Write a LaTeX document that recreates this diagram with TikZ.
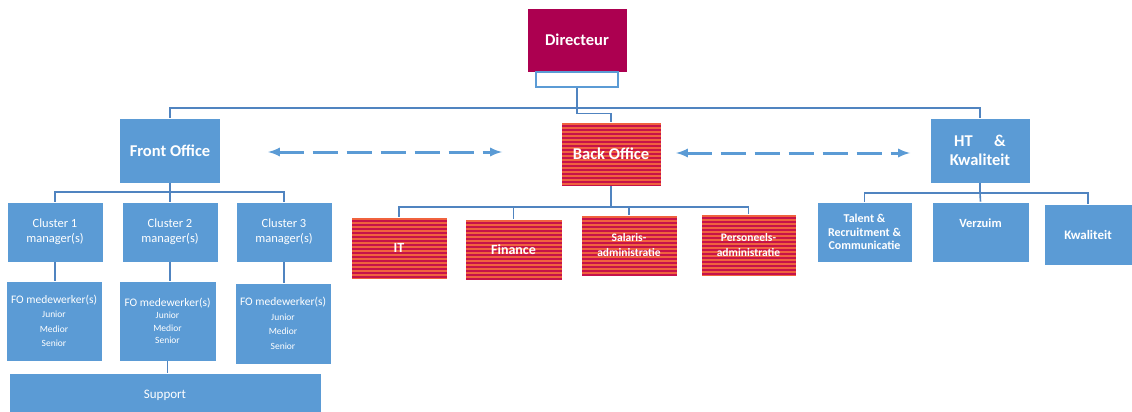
\documentclass[tikz,border=0pt]{standalone}
\usepackage{fontspec}
\setmainfont{Carlito}
\usetikzlibrary{arrows}
\usepackage{xcolor}

\definecolor{dirred}{RGB}{172,0,80}
\definecolor{boxblue}{RGB}{91,155,213}
\definecolor{lineblue}{RGB}{80,132,192}
\definecolor{stripered}{RGB}{198,18,74}
\definecolor{stripeorange}{RGB}{240,98,62}

\tikzset{
  unit/.style={draw=white, line width=0.6pt, fill=boxblue, text=white, align=center, inner sep=1pt},
  backunit/.style={unit, fill=stripered, path picture={
      \foreach \k in {1,5,...,69}
        \fill[stripeorange] ([yshift=-\k pt]path picture bounding box.north west) rectangle ++(200pt,-2pt);}},
  conn/.style={draw=lineblue, line width=1.6pt},
  linkarrow/.style={latex-latex, draw=boxblue, line width=3pt, dash pattern=on 25pt off 9pt},
  bigtxt/.style={font=\fontsize{16.5}{19}\selectfont\bfseries},
}

\begin{document}
\begin{tikzpicture}[x=1pt, y=-1pt]
    \useasboundingbox (0,0) rectangle (1132,412);

    % top
    \node[unit, fill=dirred, minimum width=100pt, minimum height=64pt, bigtxt] (dir) at (577,40) {Directeur};
    \node[draw=boxblue, line width=1.2pt, fill=white, minimum width=82pt, minimum height=15pt] (dirsub) at (577,79.5) {};

    \node[unit, minimum width=101pt, minimum height=65pt, bigtxt] (fo) at (170,150.5) {Front Office};
    \node[backunit, minimum width=100pt, minimum height=64pt, bigtxt] (bo) at (611,154) {Back Office};
    \node[unit, minimum width=100pt, minimum height=65pt, bigtxt] (ht) at (980,150.5) {HT\hspace{1.3em}\&\\Kwaliteit};

    % front office
    \node[unit, minimum width=96pt, minimum height=60pt, font=\fontsize{12.5}{15}\selectfont] (c1) at (55,232) {Cluster 1\\manager(s)};
    \node[unit, minimum width=96pt, minimum height=60pt, font=\fontsize{12.5}{15}\selectfont] (c2) at (170,232) {Cluster 2\\manager(s)};
    \node[unit, minimum width=96pt, minimum height=60pt, font=\fontsize{12.5}{15}\selectfont] (c3) at (284,232) {Cluster 3\\manager(s)};

    \node[unit, minimum width=96pt, minimum height=80pt, font=\fontsize{11.5}{14.5}\selectfont] (w1) at (54,321) {FO medewerker(s)\\{\fontsize{9.5}{14.5}\selectfont Junior}\\{\fontsize{9.5}{14.5}\selectfont Medior}\\{\fontsize{9.5}{14.5}\selectfont Senior}};
    \node[unit, minimum width=97pt, minimum height=80pt, font=\fontsize{11.5}{12.5}\selectfont] (w2) at (167.5,321) {FO medewerker(s)\\{\fontsize{9.5}{12.5}\selectfont Junior}\\{\fontsize{9.5}{12.5}\selectfont Medior}\\{\fontsize{9.5}{14.5}\selectfont Senior}};
    \node[unit, minimum width=96pt, minimum height=81pt, font=\fontsize{11.5}{14.5}\selectfont] (w3) at (283,323.5) {FO medewerker(s)\\{\fontsize{9.5}{14.5}\selectfont Junior}\\{\fontsize{9.5}{14.5}\selectfont Medior}\\{\fontsize{9.5}{14.5}\selectfont Senior}};

    \node[unit, anchor=north, minimum width=312pt, minimum height=44pt, font=\fontsize{13}{15}\selectfont] (sup) at (165,373) {Support};

    % back office
    \node[backunit, minimum width=96pt, minimum height=62pt, font=\fontsize{14}{15}\selectfont\bfseries] (it) at (399,248) {IT};
    \node[backunit, minimum width=97pt, minimum height=61pt, font=\fontsize{14}{15}\selectfont\bfseries] (fin) at (513.5,249.5) {Finance};
    \node[backunit, minimum width=96pt, minimum height=61pt, font=\fontsize{11.5}{15}\selectfont\bfseries] (sal) at (629,245.5) {Salaris-\\administratie};
    \node[backunit, minimum width=95pt, minimum height=62pt, font=\fontsize{11.5}{15}\selectfont\bfseries] (pers) at (748.5,245) {Personeels-\\administratie};

    % HT & kwaliteit
    \node[unit, minimum width=95pt, minimum height=60pt, font=\fontsize{12}{13.5}\selectfont\bfseries] (tal) at (864.5,232) {Talent \&\\Recruitment \&\\Communicatie};
    \node[unit, minimum width=97pt, minimum height=60pt, font=\fontsize{12.5}{14}\selectfont\bfseries] (ver) at (980.5,232) {Verzuim\\[4pt]};
    \node[unit, minimum width=88pt, minimum height=61pt, font=\fontsize{13}{14}\selectfont\bfseries] (kw) at (1088,234.5) {Kwaliteit};

    % connectors
    \draw[conn] (dirsub.south) -- ++(0,26) -| (bo.north);
    \draw[conn] (fo.north) -- ++(0,-10) -| (ht.north);

    \draw[conn] (c1.north) -- ++(0,-10) -| (c3.north);
    \draw[conn] (fo.south) -- (c2.north);
    \foreach \i in {1,2,3}
        \draw[conn] (c\i.south) -- (c\i.south |- w\i.north);
    \draw[conn] (w2.south) -- (w2.south |- sup.north);

    \coordinate (bobus) at (611,207);
    \draw[conn] (bo.south) -- (bobus);
    \draw[conn] (it.north) |- (bobus) -| (pers.north);
    \foreach \n in {fin,sal}
        \draw[conn] (\n.north) -- (\n.north |- bobus);

    \coordinate (htbus) at (980,193);
    \draw[conn] (ht.south) -- (htbus);
    \draw[conn] (tal.north) |- (htbus) -| (kw.north);
    \draw[conn] (ver.north |- tal.north) -- (htbus);

    % dashed links
    \coordinate (fol) at (268,152);
    \coordinate (for) at (502,152);
    \coordinate (bol) at (676,153);
    \coordinate (bor) at (910,153);
    \draw[linkarrow] (fol) -- (for);
    \draw[linkarrow] (bol) -- (bor);
\end{tikzpicture}
\end{document}
